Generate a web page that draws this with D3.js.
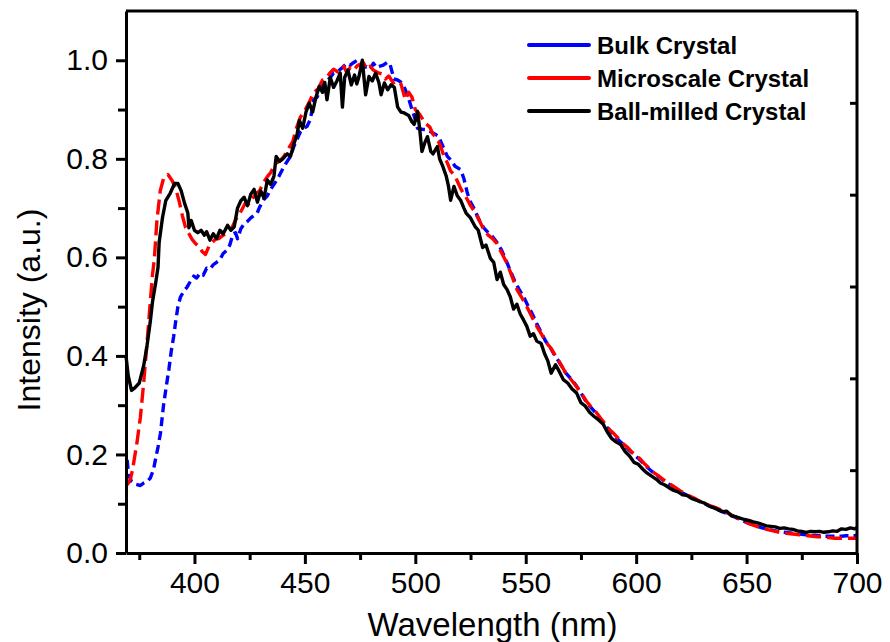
<!DOCTYPE html>
<html>
<head>
<meta charset="utf-8">
<script src="https://cdn.jsdelivr.net/npm/d3@7"></script>
<style>
  body { margin: 0; background: #fff; }
  svg text { font-family: Arial, "Liberation Sans", sans-serif; fill: #000; }
  .axis path, .axis line { stroke: #000; stroke-width: 3px; }
</style>
</head>
<body>
<div id="chart"></div>
<script>
// series names, colours and dashes
var seriesNames = ["Bulk Crystal", "Microscale Crystal", "Ball-milled Crystal"];
var seriesColors = ["#0000ff", "#ff0000", "#000000"];
var seriesDash = ["9,5", "15,6", null];

// Bulk crystal (blue) wavelength / intensity
var bulkWl = [369.5,370.2,371.5,373,375.5,377,378.5,380,381.5,382.3,383.5,384.6,386,387.3,388.4,389.5,390.6,391.5,392.5,393.7,395,396.7,398,399.7,401,402.5,404,405.5,407,408.5,410,411.5,413,414.8,416,417.5,418.6,419.5,421,422.5,424,425.5,427,428.4,429.5,431.4,433,434.4,436,438.2,440.5,442,443.5,445,446.5,448,449.5,451,452.5,454,455.5,457,458.6,460,461.5,463,465,467,469,470.5,472,473.7,475,476.5,478,479.5,481,482.5,484,485.5,487.3,488.5,490.3,492,494,495.5,497,498.5,500,501,503,505.5,507,509,510.7,512,513.5,514.5,516,518,520.5,522,523.6,525,526.5,528,529.6,531,533,535,537,539,541,543,545,547,549,551,553,555,557,559,561,563,565.5,568,570,572.5,575,577,579,581,583,585,587,589,591,593,595,597,599,601,603,605,607,609,611,613,615,617,619,621,623,625,627,629,631,633,635,637,639,641,643,645,647,649,651,653,655,657,659,661,663,665,667,669,671,673,675,677,679,681,683,685,687,689,691,693,695,697,699,700];
var bulkI = [0.189,0.158,0.145,0.14,0.137,0.142,0.145,0.152,0.17,0.189,0.215,0.243,0.30,0.34,0.372,0.41,0.44,0.47,0.50,0.52,0.53,0.54,0.55,0.562,0.558,0.568,0.564,0.578,0.576,0.585,0.59,0.595,0.608,0.615,0.625,0.648,0.65,0.638,0.658,0.668,0.673,0.68,0.685,0.69,0.702,0.717,0.725,0.737,0.748,0.764,0.784,0.795,0.805,0.825,0.84,0.855,0.862,0.866,0.88,0.92,0.925,0.94,0.954,0.958,0.965,0.974,0.978,0.985,0.994,0.99,0.995,1.0,0.99,0.985,0.987,0.982,0.994,0.985,0.988,0.99,0.996,0.993,0.962,0.96,0.954,0.94,0.922,0.9,0.88,0.862,0.86,0.859,0.855,0.85,0.845,0.83,0.815,0.805,0.798,0.785,0.778,0.76,0.73,0.712,0.70,0.685,0.669,0.66,0.65,0.642,0.63,0.615,0.595,0.573,0.552,0.535,0.52,0.502,0.485,0.465,0.448,0.43,0.418,0.402,0.385,0.366,0.356,0.342,0.325,0.31,0.298,0.288,0.276,0.265,0.254,0.244,0.234,0.225,0.217,0.208,0.2,0.192,0.183,0.174,0.166,0.159,0.152,0.145,0.139,0.133,0.128,0.122,0.117,0.113,0.108,0.104,0.1,0.096,0.092,0.088,0.084,0.08,0.076,0.072,0.068,0.064,0.06,0.057,0.054,0.051,0.049,0.047,0.045,0.043,0.042,0.041,0.04,0.039,0.038,0.037,0.036,0.035,0.035,0.034,0.034,0.034,0.034,0.034,0.035,0.035,0.035,0.036];

// Microscale crystal (red)
var microWl = [369.5,371,372,374,375.5,377,378.5,380,381,381.8,383,384.5,386,388,390,391.5,393,394.5,396,397.5,399,400.5,402,403.5,405,406.5,408,409.5,411,413,415,417,418.5,420,421.5,423,424.5,426,428,429.5,431,433,434.5,436.5,438.5,440.5,442.5,444.5,446,448,450,452,454,456,458,460,461.5,463,465,467.5,469,470.5,472,474,476.5,478,479.5,481,483,485,486.5,488,490,491.5,493.5,495.5,497,498.5,500,502,504.5,506.5,508,510,511.5,513,514.5,516,517.5,519,520.5,522,523.5,525,527,529,531,533,535,537,539,541.5,543.5,546,548,550.5,552.5,555,557,559.5,561.5,563.5,566,568,570.5,573,575.5,577.5,579.5,582,584,586,588,590,592,594,596,598,600,602,604,606,608,610,612,614,616,618,620,622,624,626,628,630,632,634,636,638,640,642,644,646,648,650,652,654,656,658,660,662,664,666,668,670,672,674,676,678,680,682,684,686,688,690,692,694,696,698,700];
var microI = [0.138,0.15,0.17,0.225,0.275,0.345,0.425,0.51,0.565,0.595,0.675,0.735,0.76,0.768,0.755,0.74,0.715,0.685,0.66,0.648,0.636,0.628,0.622,0.612,0.606,0.622,0.63,0.637,0.638,0.645,0.65,0.66,0.675,0.685,0.697,0.71,0.708,0.718,0.73,0.735,0.75,0.764,0.772,0.79,0.795,0.805,0.82,0.835,0.86,0.885,0.898,0.915,0.935,0.942,0.96,0.966,0.975,0.982,0.976,0.988,0.975,0.985,0.98,0.99,0.995,0.982,0.988,0.98,0.975,0.972,0.962,0.968,0.954,0.958,0.952,0.92,0.935,0.925,0.9,0.89,0.872,0.865,0.85,0.84,0.825,0.805,0.792,0.775,0.768,0.755,0.74,0.728,0.718,0.705,0.692,0.675,0.656,0.645,0.638,0.628,0.61,0.588,0.565,0.535,0.52,0.5,0.482,0.46,0.445,0.426,0.415,0.4,0.382,0.366,0.352,0.338,0.322,0.308,0.297,0.285,0.273,0.262,0.25,0.242,0.232,0.222,0.215,0.205,0.198,0.19,0.18,0.172,0.163,0.157,0.15,0.143,0.138,0.132,0.126,0.121,0.116,0.112,0.107,0.103,0.099,0.095,0.092,0.088,0.084,0.08,0.075,0.071,0.067,0.062,0.058,0.055,0.052,0.049,0.047,0.045,0.043,0.041,0.04,0.039,0.038,0.037,0.036,0.035,0.034,0.033,0.033,0.032,0.031,0.03,0.03,0.03,0.03,0.03,0.03];

// Ball-milled crystal (black)
var ballWl = [369,370,371.5,373,375,377,378.5,380,381,382.5,383.5,384,385.5,387,389,391,392.5,394,395.5,397,397.5,398.5,400,401.5,403,404.5,405.5,407,408.5,410,411.5,413,415,416.5,418,419.5,421,422.5,424,425.5,427,428.5,430,431.5,433,434.5,436,437,438.5,440,442,443.5,445,446.5,447.5,449,450.5,452,453.5,455,456.5,458,459,460,461.5,463,464.5,466,467,468,469.5,471,472.5,473.5,474.5,476,477.5,479,480.5,482,483.5,484.5,486,487.5,489,490.5,492,493.5,495,497,498.5,499.5,501,502,503,504.5,505.5,507,508,510,511,512.5,514,515,516,517.5,519,520.5,522,523,525,527,528.5,530.5,532,534,535.5,537,538.5,540,541.5,543,544.5,546,547.5,549,550.5,552,553.5,555,557,558.5,560,561.5,563.5,565,567,569,571,573,575,577,579,581,583,585,587,589,591,593,595,597,599,601,603,605,607,609,611,613,615,617,619,621,623,625,627,629,631,633,635,637,639,641,643,645,647,649,651,653,655,657,659,661,663,665,667,669,671,673,675,677,679,681,683,685,687,689,691,693,695,697,699,700];
var ballI = [0.40,0.36,0.33,0.335,0.345,0.38,0.42,0.47,0.51,0.55,0.58,0.63,0.68,0.715,0.73,0.75,0.75,0.735,0.71,0.69,0.66,0.675,0.655,0.65,0.655,0.645,0.652,0.635,0.648,0.638,0.655,0.648,0.665,0.655,0.662,0.70,0.715,0.722,0.705,0.728,0.738,0.712,0.735,0.72,0.757,0.748,0.765,0.805,0.795,0.80,0.81,0.805,0.83,0.85,0.878,0.862,0.895,0.913,0.895,0.925,0.947,0.935,0.955,0.92,0.965,0.945,0.958,0.974,0.905,0.965,0.98,0.95,0.97,0.952,0.967,1.0,0.93,0.967,0.958,0.974,0.955,0.93,0.954,0.94,0.95,0.945,0.905,0.895,0.893,0.888,0.875,0.87,0.896,0.86,0.815,0.835,0.845,0.815,0.81,0.825,0.80,0.784,0.765,0.745,0.716,0.744,0.725,0.716,0.70,0.69,0.68,0.663,0.655,0.62,0.625,0.598,0.59,0.555,0.57,0.545,0.535,0.52,0.495,0.505,0.485,0.473,0.46,0.44,0.445,0.43,0.425,0.405,0.39,0.365,0.382,0.37,0.352,0.345,0.333,0.325,0.305,0.298,0.285,0.277,0.27,0.262,0.245,0.232,0.225,0.22,0.206,0.197,0.184,0.18,0.17,0.162,0.156,0.15,0.142,0.138,0.132,0.127,0.124,0.118,0.117,0.111,0.108,0.104,0.101,0.095,0.092,0.088,0.084,0.085,0.076,0.074,0.071,0.068,0.066,0.063,0.061,0.058,0.055,0.054,0.053,0.050,0.051,0.049,0.048,0.045,0.044,0.042,0.044,0.043,0.044,0.042,0.043,0.045,0.044,0.049,0.048,0.051,0.049,0.052];

var xTicks = [400, 450, 500, 550, 600, 650, 700];
var xMinor = [375, 425, 475, 525, 575, 625, 675];
var yTicks = [0.0, 0.2, 0.4, 0.6, 0.8, 1.0];
var yMinor = [0.1, 0.3, 0.5, 0.7, 0.9];
var rightTicks = [0.1, 0.3, 0.5, 0.7, 0.9];

(function() {
    var W = 890, H = 642;
    var margin = {top: 11, right: 33, bottom: 89, left: 126},
        width = W - margin.left - margin.right,
        height = H - margin.top - margin.bottom;

    var svg = d3.select("#chart").append("svg")
        .attr("width", W)
        .attr("height", H);

    var g = svg.append("g")
        .attr("transform", "translate(" + margin.left + "," + margin.top + ")");

    var x = d3.scaleLinear().domain([369, 700]).range([0, width]);
    var y = d3.scaleLinear().domain([0, 1.1]).range([height, 0]);
    // the right axis in the original uses its own offset ticks
    var yRight = d3.scaleLinear().domain([-0.1, 1.1]).range([height + 9, 0]);

    var series = [
        {wl: bulkWl, val: bulkI},
        {wl: microWl, val: microI},
        {wl: ballWl, val: ballI}
    ];

    var line = d3.line()
        .x(function(d) { return x(d[0]); })
        .y(function(d) { return y(d[1]); });

    var plot = g.append("g").classed("curves", true);
    series.forEach(function(s, i) {
        var pts = s.wl.map(function(w, k) { return [w, s.val[k]]; });
        plot.append("path")
            .datum(pts)
            .attr("d", line)
            .attr("fill", "none")
            .attr("stroke", seriesColors[i])
            .attr("stroke-width", 3.4)
            .attr("stroke-linejoin", "round")
            .attr("stroke-dasharray", seriesDash[i]);
    });

    // frame top + right
    g.append("line").attr("x1", 0).attr("x2", width).attr("y1", 0).attr("y2", 0)
        .attr("stroke", "#000").attr("stroke-width", 3);

    var right = g.append("g").classed("axis", true)
        .attr("transform", "translate(" + width + ",0)")
        .call(d3.axisLeft(yRight).tickValues(rightTicks).tickSize(7).tickSizeOuter(0).tickFormat(""));
    right.select(".domain").attr("d", "M0,0V" + height);

    // bottom axis
    var bottom = g.append("g").classed("axis", true)
        .attr("transform", "translate(0," + height + ")")
        .call(d3.axisBottom(x).tickValues(xTicks).tickSize(11).tickSizeOuter(0).tickPadding(8));
    bottom.selectAll("text").style("font-size", "30px");
    g.append("g").classed("axis", true)
        .attr("transform", "translate(0," + height + ")")
        .call(d3.axisBottom(x).tickValues(xMinor).tickSize(7).tickFormat(""))
        .select(".domain").remove();

    // left axis
    var left = g.append("g").classed("axis", true)
        .call(d3.axisLeft(y).tickValues(yTicks).tickSize(10).tickSizeOuter(0).tickPadding(8)
            .tickFormat(d3.format(".1f")));
    left.selectAll("text").style("font-size", "30px");
    g.append("g").classed("axis", true)
        .call(d3.axisLeft(y).tickValues(yMinor).tickSize(8).tickFormat(""))
        .select(".domain").remove();

    // axis titles
    svg.append("text")
        .attr("x", margin.left + x(535))
        .attr("y", 636)
        .attr("text-anchor", "middle")
        .style("font-size", "33px")
        .text("Wavelength (nm)");

    svg.append("text")
        .attr("transform", "translate(40,310) rotate(-90)")
        .attr("text-anchor", "middle")
        .style("font-size", "32px")
        .text("Intensity (a.u.)");

    // legend
    var legend = svg.append("g").classed("legend", true)
        .attr("transform", "translate(529,45)");
    var items = legend.selectAll(".item")
        .data(seriesNames)
        .enter()
        .append("g")
            .classed("item", true)
            .attr("transform", function(d, i) { return "translate(0," + (i * 33) + ")"; });
    items.append("line")
        .attr("x1", 0).attr("x2", 60)
        .attr("stroke", function(d, i) { return seriesColors[i]; })
        .attr("stroke-width", 4)
        .attr("stroke-linecap", "round");
    items.append("text")
        .attr("x", 68)
        .attr("y", 8.5)
        .style("font-size", "24px")
        .style("font-weight", "bold")
        .text(function(d) { return d; });
})()
</script>
</body>
</html>
